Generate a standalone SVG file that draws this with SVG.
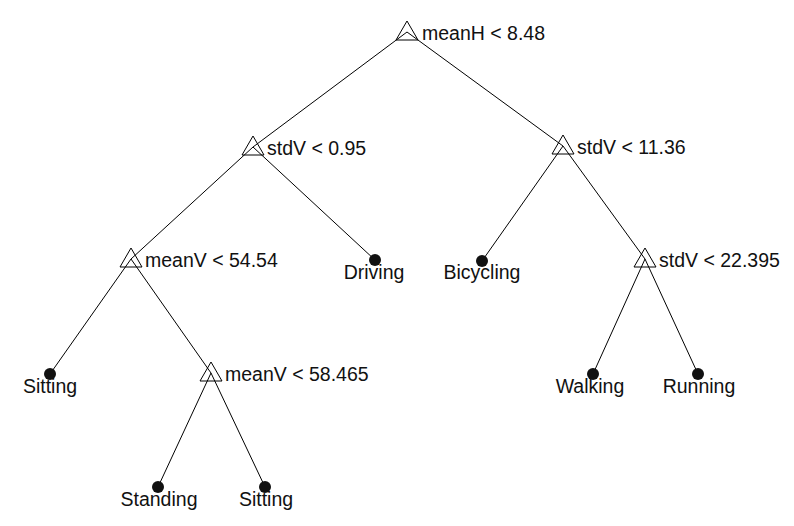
<svg xmlns="http://www.w3.org/2000/svg" width="794" height="526" viewBox="0 0 794 526">
<style>
.e{stroke:#000;stroke-width:1;fill:none}
.tri{fill:#fff;fill-opacity:0;stroke:#000;stroke-width:1}
.dot{fill:#111}
.lab{font-family:"Liberation Sans",Arial,sans-serif;font-size:19.5px;fill:#111}
.leaf{font-family:"Liberation Sans",Arial,sans-serif;font-size:19.5px;fill:#111;text-anchor:middle}
</style>
<rect width="794" height="526" fill="#fff"/>
<g id="edges">
<line class="e" x1="407" y1="32" x2="253" y2="147"/>
<line class="e" x1="407" y1="32" x2="563" y2="146"/>
<line class="e" x1="253" y1="147" x2="131" y2="259"/>
<line class="e" x1="253" y1="147" x2="375" y2="260"/>
<line class="e" x1="563" y1="146" x2="482" y2="261"/>
<line class="e" x1="563" y1="146" x2="645" y2="259"/>
<line class="e" x1="131" y1="259" x2="50" y2="374"/>
<line class="e" x1="131" y1="259" x2="211" y2="373"/>
<line class="e" x1="645" y1="259" x2="593" y2="374"/>
<line class="e" x1="645" y1="259" x2="698" y2="374"/>
<line class="e" x1="211" y1="373" x2="158" y2="487"/>
<line class="e" x1="211" y1="373" x2="265" y2="487"/>
</g>
<g id="n_root"><polygon class="tri" points="407,21 396,40 418,40"/><text class="lab" x="422" y="40">meanH &lt; 8.48</text></g>
<g id="n_stdV095"><polygon class="tri" points="253,136 242,155 264,155"/><text class="lab" x="267" y="155">stdV &lt; 0.95</text></g>
<g id="n_stdV1136"><polygon class="tri" points="563,135 552,154 574,154"/><text class="lab" x="577" y="154">stdV &lt; 11.36</text></g>
<g id="n_meanV5454"><polygon class="tri" points="131,248 120,267 142,267"/><text class="lab" x="145" y="267">meanV &lt; 54.54</text></g>
<g id="n_stdV22395"><polygon class="tri" points="645,248 634,267 656,267"/><text class="lab" x="659" y="267">stdV &lt; 22.395</text></g>
<g id="n_meanV58465"><polygon class="tri" points="211,362 200,381 222,381"/><text class="lab" x="225" y="381">meanV &lt; 58.465</text></g>
<g id="l_driving"><circle class="dot" cx="375" cy="260" r="6"/><text class="leaf" x="374" y="279">Driving</text></g>
<g id="l_bicycling"><circle class="dot" cx="482" cy="261" r="6"/><text class="leaf" x="482" y="279">Bicycling</text></g>
<g id="l_sitting1"><circle class="dot" cx="50" cy="374" r="6"/><text class="leaf" x="50" y="393">Sitting</text></g>
<g id="l_walking"><circle class="dot" cx="593" cy="374" r="6"/><text class="leaf" x="590" y="393">Walking</text></g>
<g id="l_running"><circle class="dot" cx="698" cy="374" r="6"/><text class="leaf" x="699" y="393">Running</text></g>
<g id="l_standing"><circle class="dot" cx="158" cy="487" r="6"/><text class="leaf" x="159" y="506">Standing</text></g>
<g id="l_sitting2"><circle class="dot" cx="265" cy="487" r="6"/><text class="leaf" x="266" y="506">Sitting</text></g>
</svg>
